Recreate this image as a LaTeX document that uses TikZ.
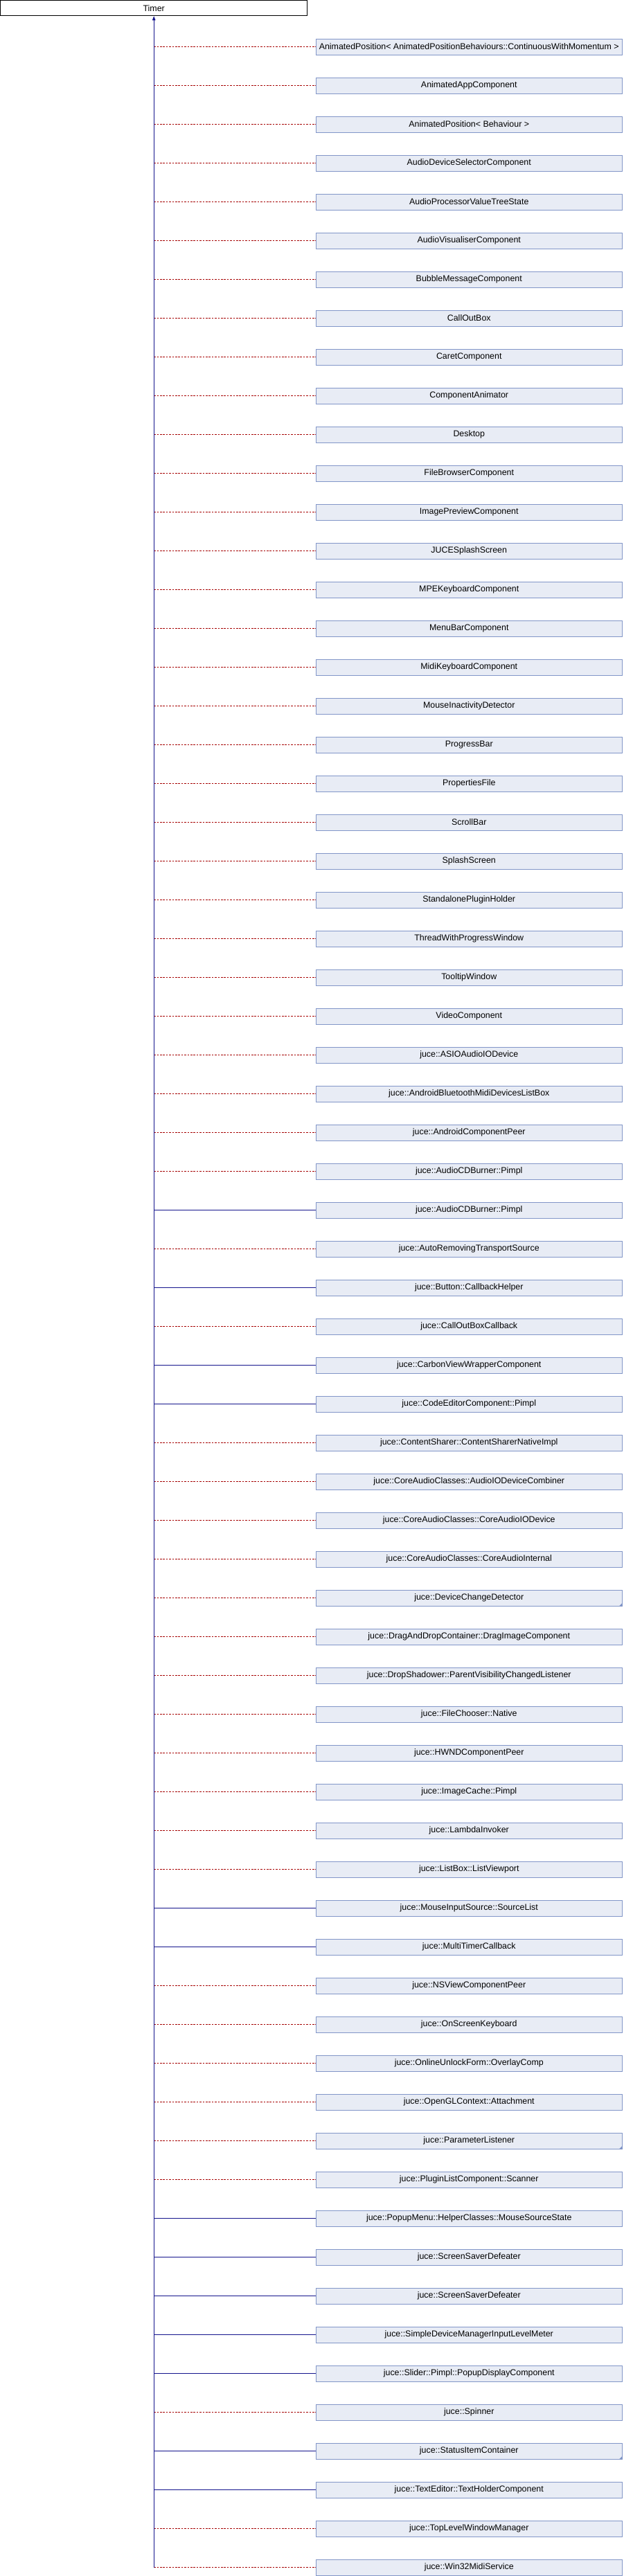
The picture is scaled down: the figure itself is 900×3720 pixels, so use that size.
\documentclass[tikz,border=0pt]{standalone}
\usepackage{fontspec}
\setmainfont{Liberation Sans}
\usetikzlibrary{arrows.meta}
\definecolor{boxfill}{RGB}{232,236,245}
\definecolor{boxline}{RGB}{130,150,200}
\definecolor{pubcol}{RGB}{20,20,140}
\definecolor{privcol}{RGB}{165,0,0}
\tikzset{
  cls/.style={draw=boxline, fill=boxfill, line width=0.9pt, minimum width=442.5pt, minimum height=23pt, inner sep=0pt, font=\fontsize{12.4}{14}\selectfont},
  rootcls/.style={draw=black, fill=white, line width=0.9pt, minimum width=443pt, minimum height=22.5pt, inner sep=0pt, font=\fontsize{12.4}{14}\selectfont},
  pub/.style={draw=pubcol, line width=0.9pt},
  priv/.style={draw=privcol, line width=1pt, dash pattern=on 2.6pt off 1.8pt},
  trunk/.style={draw=pubcol, line width=1.1pt}
}
\begin{document}
\begin{tikzpicture}[x=1pt,y=-1pt]
\useasboundingbox (0,0) rectangle (900,3720);
\node[rootcls] (timer) at (222.2,11.6) {Timer};
\foreach \i/\s/\t in {
1/priv/{AnimatedPosition< AnimatedPositionBehaviours::ContinuousWithMomentum >},
2/priv/{AnimatedAppComponent},
3/priv/{AnimatedPosition< Behaviour >},
4/priv/{AudioDeviceSelectorComponent},
5/priv/{AudioProcessorValueTreeState},
6/priv/{AudioVisualiserComponent},
7/priv/{BubbleMessageComponent},
8/priv/{CallOutBox},
9/priv/{CaretComponent},
10/priv/{ComponentAnimator},
11/priv/{Desktop},
12/priv/{FileBrowserComponent},
13/priv/{ImagePreviewComponent},
14/priv/{JUCESplashScreen},
15/priv/{MPEKeyboardComponent},
16/priv/{MenuBarComponent},
17/priv/{MidiKeyboardComponent},
18/priv/{MouseInactivityDetector},
19/priv/{ProgressBar},
20/priv/{PropertiesFile},
21/priv/{ScrollBar},
22/priv/{SplashScreen},
23/priv/{StandalonePluginHolder},
24/priv/{ThreadWithProgressWindow},
25/priv/{TooltipWindow},
26/priv/{VideoComponent},
27/priv/{juce::ASIOAudioIODevice},
28/priv/{juce::AndroidBluetoothMidiDevicesListBox},
29/priv/{juce::AndroidComponentPeer},
30/priv/{juce::AudioCDBurner::Pimpl},
31/pub/{juce::AudioCDBurner::Pimpl},
32/priv/{juce::AutoRemovingTransportSource},
33/pub/{juce::Button::CallbackHelper},
34/priv/{juce::CallOutBoxCallback},
35/pub/{juce::CarbonViewWrapperComponent},
36/pub/{juce::CodeEditorComponent::Pimpl},
37/priv/{juce::ContentSharer::ContentSharerNativeImpl},
38/priv/{juce::CoreAudioClasses::AudioIODeviceCombiner},
39/priv/{juce::CoreAudioClasses::CoreAudioIODevice},
40/priv/{juce::CoreAudioClasses::CoreAudioInternal},
41/priv/{juce::DeviceChangeDetector},
42/priv/{juce::DragAndDropContainer::DragImageComponent},
43/priv/{juce::DropShadower::ParentVisibilityChangedListener},
44/priv/{juce::FileChooser::Native},
45/priv/{juce::HWNDComponentPeer},
46/priv/{juce::ImageCache::Pimpl},
47/priv/{juce::LambdaInvoker},
48/priv/{juce::ListBox::ListViewport},
49/pub/{juce::MouseInputSource::SourceList},
50/pub/{juce::MultiTimerCallback},
51/priv/{juce::NSViewComponentPeer},
52/priv/{juce::OnScreenKeyboard},
53/priv/{juce::OnlineUnlockForm::OverlayComp},
54/priv/{juce::OpenGLContext::Attachment},
55/priv/{juce::ParameterListener},
56/priv/{juce::PluginListComponent::Scanner},
57/pub/{juce::PopupMenu::HelperClasses::MouseSourceState},
58/pub/{juce::ScreenSaverDefeater},
59/pub/{juce::ScreenSaverDefeater},
60/pub/{juce::SimpleDeviceManagerInputLevelMeter},
61/pub/{juce::Slider::Pimpl::PopupDisplayComponent},
62/priv/{juce::Spinner},
63/pub/{juce::StatusItemContainer},
64/pub/{juce::TextEditor::TextHolderComponent},
65/priv/{juce::TopLevelWindowManager},
66/priv/{juce::Win32MidiService}
}{
  \node[cls] (n\i) at (677.25, 67.5+56*\i-56) {\t};
  \draw[\s] (timer.south |- n\i.west) -- (n\i.west);
}
\foreach \i in {41,55,63}{
  \fill[boxline] (n\i.south east) -- ++(0,-5) -- ++(-5,5) -- cycle;
}
\coordinate (tbot) at (timer.south |- n66.west);
\draw[trunk, -{Triangle[width=4.5pt,length=6pt]}] (tbot) -- (timer.south);
\end{tikzpicture}
\end{document}
